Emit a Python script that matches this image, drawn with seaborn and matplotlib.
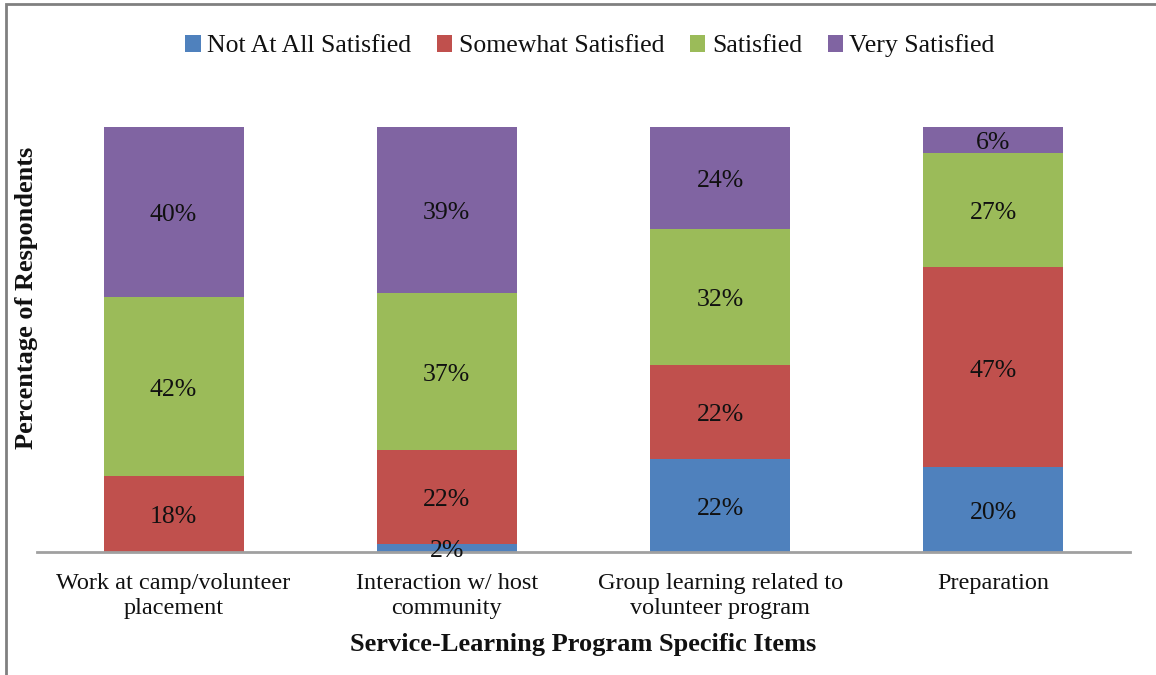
import matplotlib
matplotlib.use("Agg")
import matplotlib.pyplot as plt
import seaborn as sns
import pandas as pd
import numpy as np
from matplotlib.patches import Rectangle, Patch

# -------------------------------
# Data (percent of respondents)
# -------------------------------
items = ["Work at camp/volunteer\nplacement", "Interaction w/ host\ncommunity",
         "Group learning related to\nvolunteer program", "Preparation"]
levels = ["Not At All Satisfied", "Somewhat Satisfied", "Satisfied", "Very Satisfied"]
not_at_all = [0, 2, 22, 20]
somewhat = [18, 22, 22, 47]
satisfied = [42, 37, 32, 27]
very = [40, 39, 24, 6]
colors = ["#4F81BD", "#C0504D", "#9BBB59", "#8064A2"]

sns.set_theme(style="white")
plt.rcParams['font.family'] = ['Liberation Serif', 'DejaVu Serif']

series = [not_at_all, somewhat, satisfied, very]
df = pd.DataFrame({"item": items})
for name, vals in zip(levels, series):
    df[name] = vals
cum = df[levels].cumsum(axis=1)

fig = plt.figure(figsize=(11.56, 6.75), dpi=100)
ax = fig.add_axes([37 / 1156, 1 - 552 / 675, (1130 - 37) / 1156, (552 - 127) / 675])

# stacked bars: draw cumulative totals from the top series down
for name, c in reversed(list(zip(levels, colors))):
    sns.barplot(x=df["item"], y=cum[name], color=c, width=0.513,
                saturation=1, ax=ax, linewidth=0)

# segment labels
for i in range(len(items)):
    base = 0
    for name in levels:
        v = df.loc[i, name]
        if v > 0:
            ax.annotate(f"{v}%", (i, base + v / 2), xytext=(0, -2.5),
                        textcoords="offset points", ha="center", va="center",
                        fontsize=18.5, color="#111111")
        base += v

ax.set_xlim(-0.5, 3.5)
ax.set_ylim(0, 100)
ax.set_yticks([])
ax.set_xlabel("")
ax.set_ylabel("")
ax.tick_params(axis="x", length=0, pad=15, labelsize=17.5, colors="#111111")
for lab in ax.get_xticklabels():
    lab.set_linespacing(1.25)
for s in ["top", "right", "left"]:
    ax.spines[s].set_visible(False)
ax.spines["bottom"].set_color("#a0a0a0")
ax.spines["bottom"].set_linewidth(2)

fig.text(27 / 1156, 1 - 298 / 675, "Percentage of Respondents", rotation=90,
         ha="center", va="center", fontsize=19, fontweight="bold", color="#111111")
fig.text(583 / 1156, 1 - 645 / 675, "Service-Learning Program Specific Items",
         ha="center", va="center", fontsize=19, fontweight="bold", color="#111111")

handles = [Patch(facecolor=c, edgecolor="none") for c in colors]
fig.legend(handles, levels, loc="center", bbox_to_anchor=(590 / 1156, 1 - 46 / 675),
           ncol=4, frameon=False, fontsize=18.5, handlelength=0.6, handleheight=0.6,
           handletextpad=0.25, columnspacing=1.0, labelcolor="#111111")

# outer chart border (left and top visible)
fig.patches.append(Rectangle((6 / 1156, -0.1), 1.2, 1 - 4 / 675 + 0.1,
                             transform=fig.transFigure, fill=False,
                             edgecolor="#808080", linewidth=2))

fig.savefig("out.png", dpi=100)
